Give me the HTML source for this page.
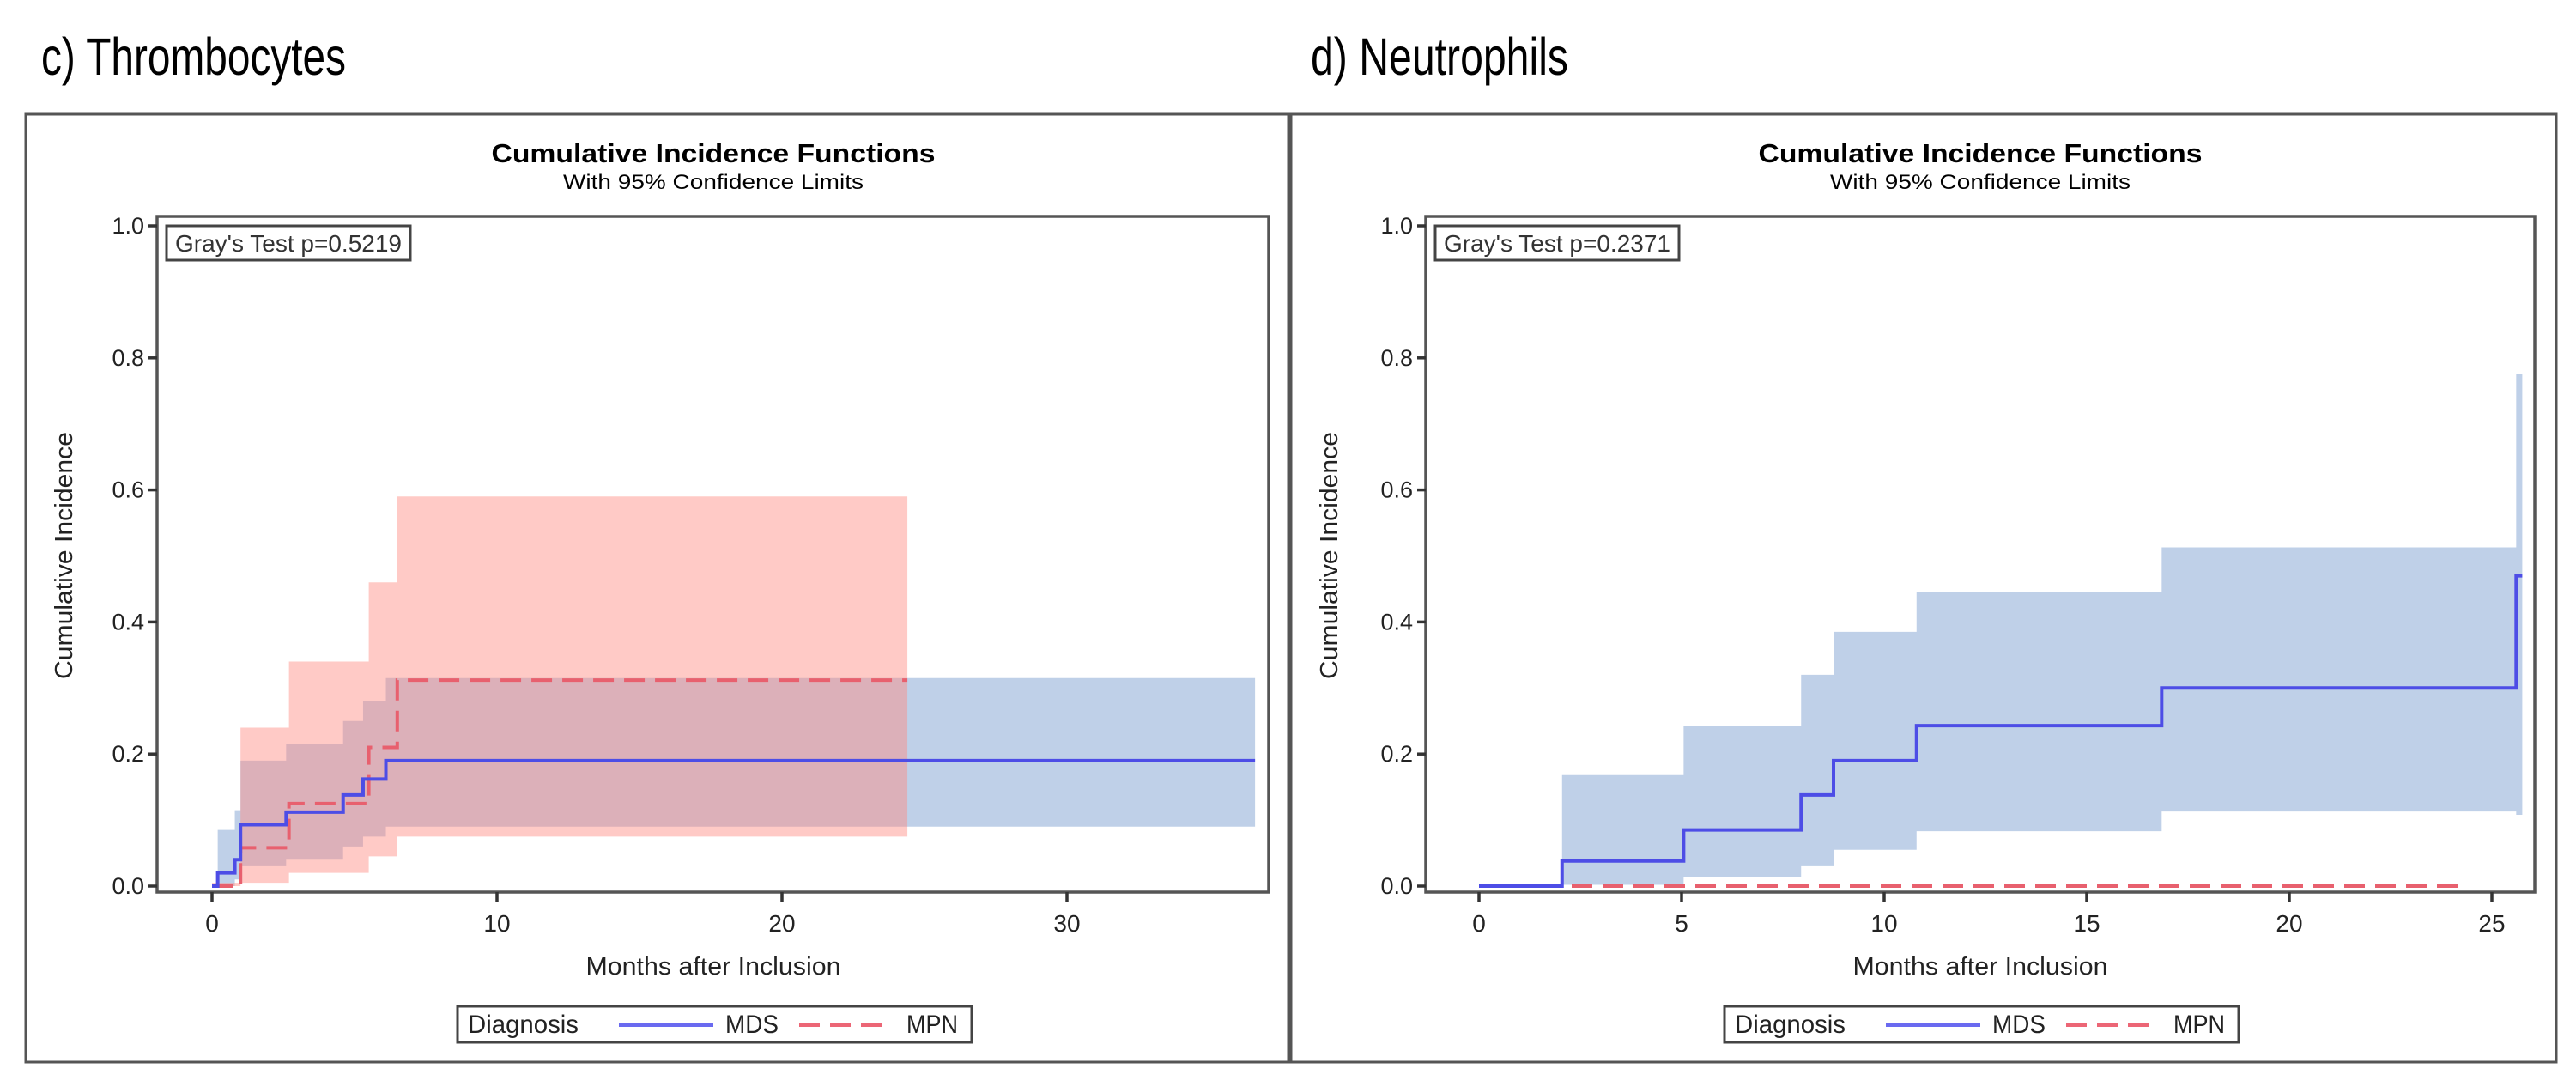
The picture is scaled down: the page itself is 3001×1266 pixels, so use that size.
<!DOCTYPE html>
<html><head><meta charset="utf-8"><style>
html,body{margin:0;padding:0;background:#fff;}
svg{display:block;font-family:"Liberation Sans",Arial,sans-serif;}
</style></head><body>
<svg id="fig" width="3001" height="1266" viewBox="0 0 3001 1266" xmlns="http://www.w3.org/2000/svg">
<text x="48" y="87" font-size="61" textLength="355" lengthAdjust="spacingAndGlyphs">c) Thrombocytes</text>
<text x="1527" y="87" font-size="61" textLength="300" lengthAdjust="spacingAndGlyphs">d) Neutrophils</text>
<rect x="30" y="133" width="1471" height="1104" fill="none" stroke="#555" stroke-width="3"/>
<rect x="1504" y="133" width="1474" height="1104" fill="none" stroke="#555" stroke-width="3"/>
<g id="pc"></g>
<g id="pd"></g>
</svg>
<script>
// Panel C (Thrombocytes) data
const cXTicks = [0, 10, 20, 30];
const cYTicks = [0.0, 0.2, 0.4, 0.6, 0.8, 1.0];
const cMdsT = [0, 0.2, 0.8, 1.0, 2.6, 4.6, 5.3, 6.1, 36.6];
const cMdsV = [0, 0.02, 0.04, 0.093, 0.112, 0.138, 0.162, 0.19, 0.19];
const cMdsUp = [0, 0.085, 0.115, 0.19, 0.215, 0.25, 0.28, 0.315, 0.315];
const cMdsLo = [0, 0.0, 0.01, 0.03, 0.04, 0.06, 0.075, 0.09, 0.09];
const cMpnT = [0, 1.0, 2.7, 5.5, 6.5, 24.4];
const cMpnV = [0, 0.058, 0.125, 0.21, 0.312, 0.312];
const cMpnUp = [0.005, 0.24, 0.34, 0.46, 0.59, 0.59];
const cMpnLo = [0, 0.005, 0.02, 0.045, 0.075, 0.075];
const cPval = "Gray's Test p=0.5219";
// Panel D (Neutrophils) data
const dXTicks = [0, 5, 10, 15, 20, 25];
const dYTicks = [0.0, 0.2, 0.4, 0.6, 0.8, 1.0];
const dMdsT = [0, 2.05, 5.05, 7.95, 8.75, 10.8, 16.85, 25.6, 25.75];
const dMdsV = [0, 0.038, 0.085, 0.138, 0.19, 0.243, 0.30, 0.47, 0.47];
const dMdsUp = [0, 0.168, 0.243, 0.32, 0.385, 0.445, 0.513, 0.775, 0.775];
const dMdsLo = [0, 0.002, 0.013, 0.03, 0.055, 0.083, 0.113, 0.108, 0.108];
const dMpnT = [0, 24.4];
const dMpnV = [0, 0];
const dPval = "Gray's Test p=0.2371";

const NS = "http://www.w3.org/2000/svg";
function mk(parent, tag, attrs, text){
  const e = document.createElementNS(NS, tag);
  for (const k in attrs) e.setAttribute(k, attrs[k]);
  if (text !== undefined) e.textContent = text;
  parent.appendChild(e);
  return e;
}
function stepPath(T, V, sx, sy){
  let d = "M" + sx(T[0]) + "," + sy(V[0]);
  for (let i = 1; i < T.length; i++){
    d += " H" + sx(T[i]) + " V" + sy(V[i]);
  }
  return d;
}
function bandPath(T, U, L, sx, sy){
  let d = "M" + sx(T[0]) + "," + sy(U[0]);
  for (let i = 1; i < T.length; i++) d += " H" + sx(T[i]) + " V" + sy(U[i]);
  d += " V" + sy(L[T.length-1]);
  for (let i = T.length - 2; i >= 0; i--) d += " V" + sy(L[i]) + " H" + sx(T[i]);
  return d + " Z";
}
function panel(g, o){
  const sx = v => o.x0 + v * o.ppm;
  const sy = v => 1032 - v * 769;
  const cx = o.cx;
  let e;
  e = mk(g, "text", {x: cx, y: 189, "font-size": 31, "font-weight": "bold", "text-anchor": "middle", textLength: 517, lengthAdjust: "spacingAndGlyphs"}, "Cumulative Incidence Functions");
  
  
  e = mk(g, "text", {x: cx, y: 220, "font-size": 24, "text-anchor": "middle", textLength: 350, lengthAdjust: "spacingAndGlyphs"}, "With 95% Confidence Limits");
  
  
  e = mk(g, "path", {d: bandPath(o.mT, o.mUp, o.mLo, sx, sy), fill: "#bfd0e8"});
  
  
  if (o.pUp){
    e = mk(g, "path", {d: bandPath(o.pT, o.pUp, o.pLo, sx, sy), fill: "rgb(255,140,130)", "fill-opacity": 0.46});
    
    
  }
  e = mk(g, "path", {d: stepPath(o.pT, o.pV, sx, sy), fill: "none", stroke: "#e8606e", "stroke-width": 4, "stroke-dasharray": "24,12"});
  
  
  e = mk(g, "path", {d: stepPath(o.mT, o.mV, sx, sy), fill: "none", stroke: "#4d4de6", "stroke-width": 4});
  
  
  e = mk(g, "rect", {x: o.L, y: 252, width: o.R - o.L, height: 1039 - 252, fill: "none", stroke: "#555", "stroke-width": 3.5});
  
  
  o.yT.forEach(v => {
    const y = sy(v);
    let t = mk(g, "line", {x1: o.L - 10, x2: o.L, y1: y, y2: y, stroke: "#333", "stroke-width": 3.5});
    
    
    t = mk(g, "text", {x: o.L - 15, y: y + 9, "font-size": 27, "text-anchor": "end", fill: "#222"}, v.toFixed(1));
    
    
  });
  o.xT.forEach(v => {
    const x = sx(v);
    let t = mk(g, "line", {x1: x, x2: x, y1: 1039, y2: 1051, stroke: "#333", "stroke-width": 3.5});
    
    
    t = mk(g, "text", {x: x, y: 1085, "font-size": 28, "text-anchor": "middle", fill: "#222"}, String(v));
    
    
  });
  e = mk(g, "text", {x: cx, y: 1135, "font-size": 29, "text-anchor": "middle", fill: "#222", textLength: 297, lengthAdjust: "spacingAndGlyphs"}, "Months after Inclusion");
  
  
  e = mk(g, "text", {x: 0, y: 0, "font-size": 29, "text-anchor": "middle", fill: "#222", textLength: 288, lengthAdjust: "spacingAndGlyphs", transform: "translate(" + (o.yTitleX) + ",647) rotate(-90)"}, "Cumulative Incidence");
  
  
  e = mk(g, "rect", {x: o.L + 11, y: 263, width: 284, height: 40, fill: "#fff", stroke: "#444", "stroke-width": 3});
  
  
  e = mk(g, "text", {x: o.L + 21, y: 293, "font-size": 28, fill: "#333", textLength: 264, lengthAdjust: "spacingAndGlyphs"}, o.pval);
  
  
  const lx = o.legX;
  e = mk(g, "rect", {x: lx, y: 1172, width: 599, height: 42, fill: "#fff", stroke: "#444", "stroke-width": 3});
  
  
  e = mk(g, "text", {x: lx + 12, y: 1203, "font-size": 30, fill: "#222", textLength: 129, lengthAdjust: "spacingAndGlyphs"}, "Diagnosis");
  
  
  e = mk(g, "line", {x1: lx + 188, x2: lx + 298, y1: 1194, y2: 1194, stroke: "#6a6af0", "stroke-width": 4});
  
  
  e = mk(g, "text", {x: lx + 312, y: 1203, "font-size": 30, fill: "#222", textLength: 62, lengthAdjust: "spacingAndGlyphs"}, "MDS");
  
  
  e = mk(g, "line", {x1: lx + 398, x2: lx + 500, y1: 1194, y2: 1194, stroke: "#ec6676", "stroke-width": 4, "stroke-dasharray": "24,12"});
  
  
  e = mk(g, "text", {x: lx + 523, y: 1203, "font-size": 30, fill: "#222", textLength: 60, lengthAdjust: "spacingAndGlyphs"}, "MPN");
  
  
}
panel(document.getElementById("pc"), {L: 183, R: 1478, x0: 247, ppm: 33.2, cx: 831, xT: cXTicks, yT: cYTicks,
  mT: cMdsT, mV: cMdsV, mUp: cMdsUp, mLo: cMdsLo, pT: cMpnT, pV: cMpnV, pUp: cMpnUp, pLo: cMpnLo,
  pval: cPval, legX: 533, yTitleX: 84});
panel(document.getElementById("pd"), {L: 1661, R: 2953, x0: 1723, ppm: 47.2, cx: 2307, xT: dXTicks, yT: dYTicks,
  mT: dMdsT, mV: dMdsV, mUp: dMdsUp, mLo: dMdsLo, pT: dMpnT, pV: dMpnV,
  pval: dPval, legX: 2009, yTitleX: 1558});
</script>
</body></html>
